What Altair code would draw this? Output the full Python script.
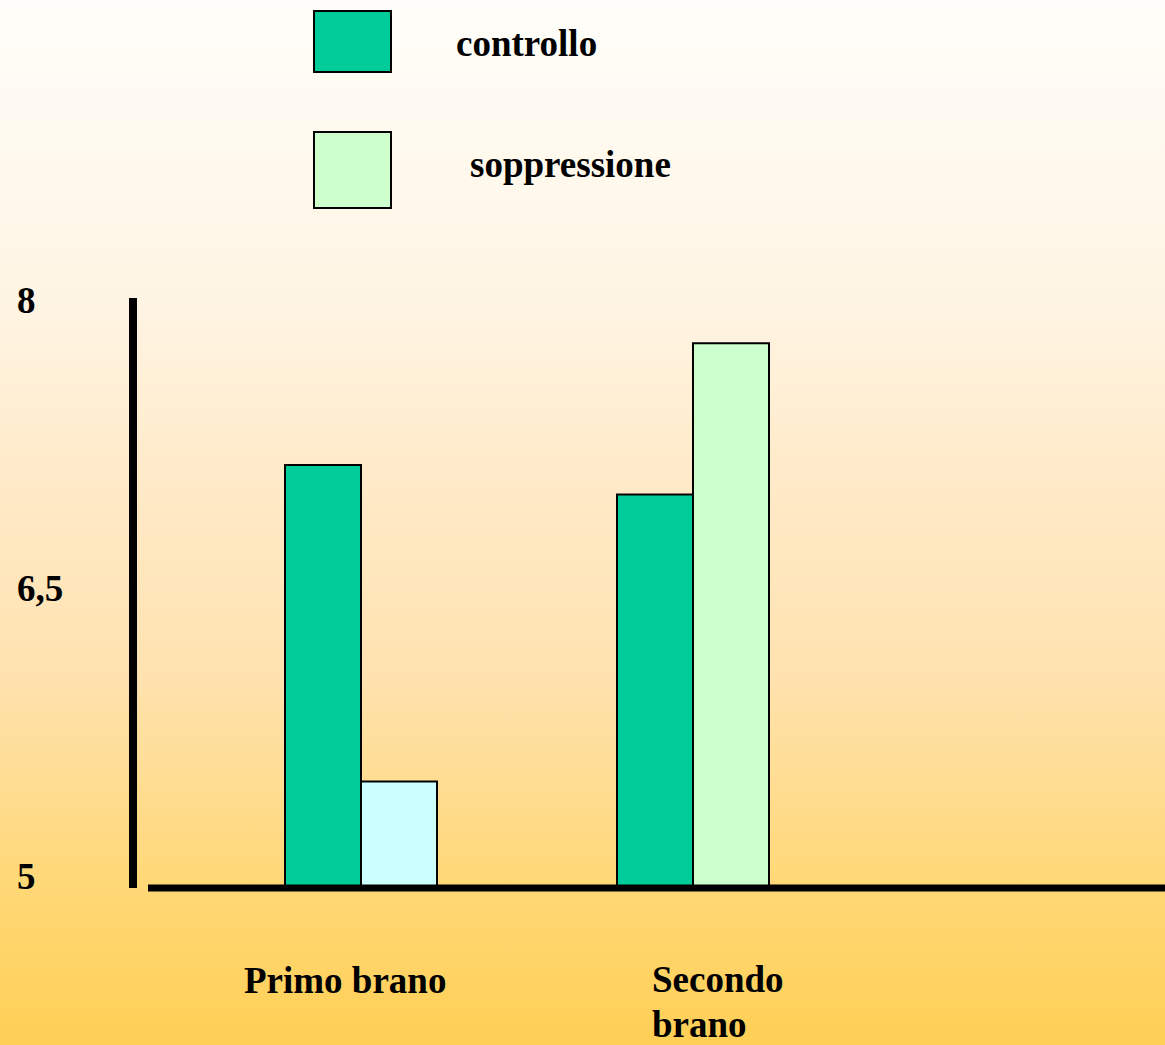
import altair as alt
import pandas as pd

# ---- data ----
brani = ["Primo brano", "Secondo brano"]
serie = ["controllo", "soppressione"]
controllo = [7.15, 7.0]
soppressione = [5.54, 7.77]
tick_values = [5, 6.5, 8]
tick_labels = ["5", "6,5", "8"]

rows = []
for b, c, s in zip(brani, controllo, soppressione):
    rows.append({"brano": b, "serie": "controllo", "valore": c, "chiave": b + "|controllo"})
    rows.append({"brano": b, "serie": "soppressione", "valore": s, "chiave": b + "|soppressione"})
bars_df = pd.DataFrame(rows)
ticks_df = pd.DataFrame({"v": tick_values, "label": tick_labels})

W, H = 1165, 1045
FONT = "Liberation Serif"
FS = 37

grad = alt.LinearGradient(
    gradient="linear", x1=0, x2=0, y1=0, y2=1,
    stops=[
        alt.GradientStop(color="#FFFEFA", offset=0),
        alt.GradientStop(color="#FFF4E2", offset=0.3),
        alt.GradientStop(color="#FFEBCB", offset=0.44),
        alt.GradientStop(color="#FFE2AE", offset=0.65),
        alt.GradientStop(color="#FFD878", offset=0.84),
        alt.GradientStop(color="#FFCF55", offset=1),
    ],
)

background = alt.Chart(pd.DataFrame({"a": [0]})).mark_rect(fill=grad, strokeWidth=0).encode(
    x=alt.value(0), x2=alt.value(W), y=alt.value(0), y2=alt.value(H)
)

yscale = alt.Scale(domain=[5, 8], range=[887.5, 298], zero=False, nice=False)

bars = alt.Chart(bars_df).mark_bar(stroke="black", strokeWidth=2).encode(
    x=alt.X("brano:N", scale=alt.Scale(domain=brani, range=[195, 859], paddingInner=0, paddingOuter=0), axis=None),
    xOffset=alt.XOffset("serie:N", scale=alt.Scale(domain=serie, range=[90, 242], paddingInner=0, paddingOuter=0)),
    y=alt.Y("valore:Q", scale=yscale, axis=None),
    y2=alt.datum(5),
    fill=alt.Fill(
        "chiave:N",
        scale=alt.Scale(
            domain=["Primo brano|controllo", "Primo brano|soppressione",
                    "Secondo brano|controllo", "Secondo brano|soppressione"],
            range=["#00CC99", "#CCFFFF", "#00CC99", "#CCFFCC"],
        ),
        legend=None,
    ),
)

y_axis_line = alt.Chart(pd.DataFrame({"a": [0]})).mark_rule(color="black", strokeWidth=8, strokeCap="butt").encode(
    x=alt.value(133), y=alt.value(298), y2=alt.value(888)
)
x_axis_line = alt.Chart(pd.DataFrame({"a": [0]})).mark_rule(color="black", strokeWidth=7, strokeCap="butt").encode(
    x=alt.value(148), x2=alt.value(W), y=alt.value(888)
)

tick_text = alt.Chart(ticks_df).mark_text(
    font=FONT, fontSize=FS, fontWeight="bold", align="left", baseline="middle", color="black"
).encode(
    x=alt.value(17),
    y=alt.Y("v:Q", scale=alt.Scale(domain=[5, 8], range=[878, 302], zero=False, nice=False), axis=None),
    text="label:N",
)

def label(txt, x, y, **kw):
    return alt.Chart(pd.DataFrame({"t": [txt]})).mark_text(
        font=FONT, fontSize=FS, fontWeight="bold", align="left", baseline="alphabetic",
        color="black", **kw
    ).encode(x=alt.value(x), y=alt.value(y), text="t:N")

cat1 = label(brani[0], 244, 993)
cat2 = label("Secondo\nbrano", 652, 992, lineBreak="\n", lineHeight=45)

leg_box1 = alt.Chart(pd.DataFrame({"a": [0]})).mark_rect(fill="#00CC99", stroke="black", strokeWidth=2).encode(
    x=alt.value(314), x2=alt.value(391), y=alt.value(11), y2=alt.value(72)
)
leg_box2 = alt.Chart(pd.DataFrame({"a": [0]})).mark_rect(fill="#CCFFCC", stroke="black", strokeWidth=2).encode(
    x=alt.value(314), x2=alt.value(391), y=alt.value(132), y2=alt.value(208)
)
leg_t1 = label(serie[0], 456, 56)
leg_t2 = label(serie[1], 470, 177)

chart = alt.layer(
    background, bars, y_axis_line, x_axis_line, tick_text,
    cat1, cat2, leg_box1, leg_box2, leg_t1, leg_t2
).resolve_scale(y="independent").properties(
    width=W, height=H, padding=0, autosize=alt.AutoSizeParams(type="none")
).configure_view(stroke=None).configure(background="#FFFFFF")

chart.save("out.html", embed_options={"renderer": "svg", "actions": False})
